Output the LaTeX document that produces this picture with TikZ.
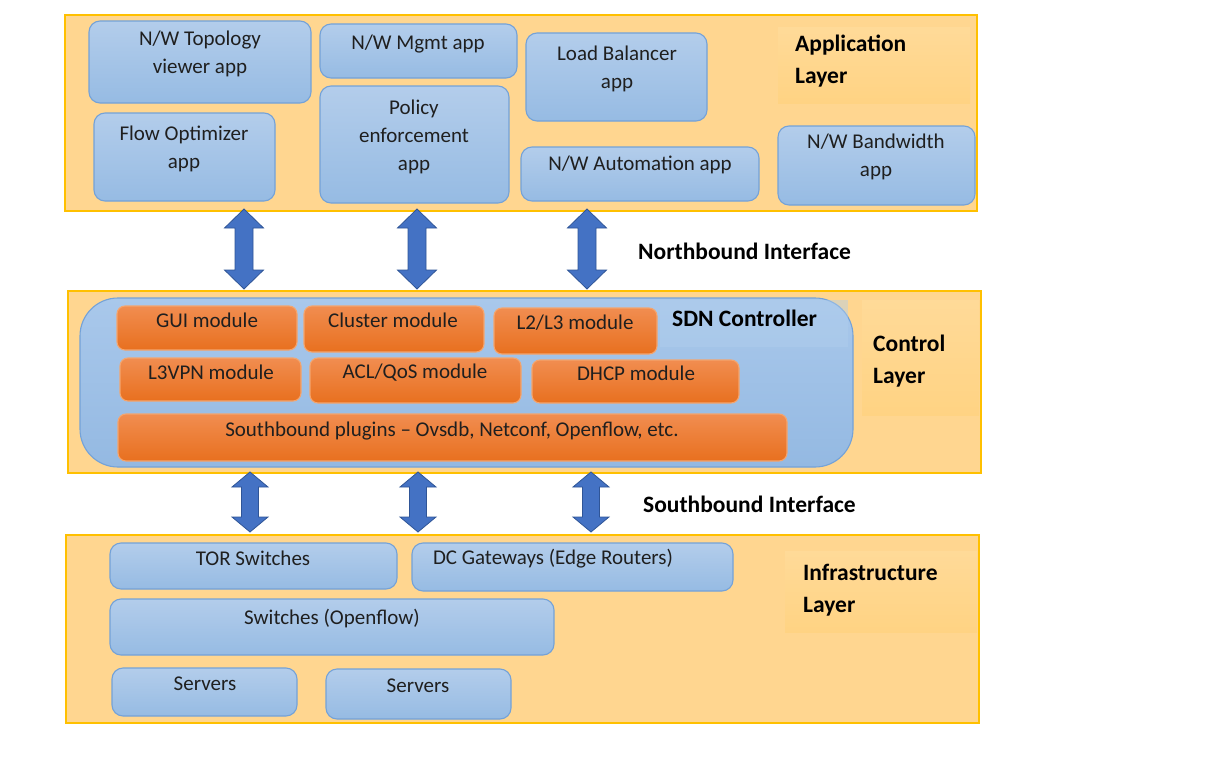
\documentclass[tikz,border=0pt]{standalone}
\usepackage{fontspec}
\setmainfont{Carlito}
\begin{document}
\begin{tikzpicture}[x=1pt,y=-1pt,
  layer/.style={draw=layerline, line width=1.6pt, fill=layerfill, rectangle, inner sep=0pt, outer sep=0pt},
  patch/.style={rectangle, inner sep=0pt, outer sep=0pt, top color=patchtop, bottom color=patchbot, draw=none},
  appbox/.style={draw=blueline, line width=1.1pt, rounded corners=11pt, top color=bluetop, bottom color=bluebot, rectangle, inner sep=0pt, outer sep=0pt},
  ctrlbox/.style={draw=blueline, line width=1.1pt, rounded corners=38pt, top color=ctrltop, bottom color=ctrlbot, rectangle, inner sep=0pt, outer sep=0pt},
  modbox/.style={draw=orangeline, line width=1.1pt, rounded corners=8pt, top color=orangetop, bottom color=orangebot, rectangle, inner sep=0pt, outer sep=0pt},
  txt/.style={font=\fontsize{21}{28}\selectfont, text=textgray, align=center, inner sep=0pt, anchor=center, yshift=-2pt},
  lbl/.style={font=\fontsize{23.5}{32}\selectfont\bfseries, text=black, align=left, inner sep=0pt, yshift=-1.5pt},
  blockarrow/.style={fill=arrowfill, draw=arrowline, line width=0.8pt, line join=miter}
]
\definecolor{layerline}{HTML}{FFC000}
\definecolor{layerfill}{HTML}{FFD690}
\definecolor{patchtop}{HTML}{FFDA98}
\definecolor{patchbot}{HTML}{FFD383}
\definecolor{blueline}{HTML}{74A2D8}
\definecolor{bluetop}{HTML}{B3CDEB}
\definecolor{bluebot}{HTML}{96BBE3}
\definecolor{ctrltop}{HTML}{A9C8EB}
\definecolor{ctrlbot}{HTML}{94B9E2}
\definecolor{orangeline}{HTML}{F4A56E}
\definecolor{orangetop}{HTML}{F18D50}
\definecolor{orangebot}{HTML}{E8701F}
\definecolor{textgray}{HTML}{1F1F1F}
\definecolor{arrowfill}{HTML}{4472C4}
\definecolor{arrowline}{HTML}{2F5597}

\newcommand\bx[6]{\node[#1, minimum width={#4-#2}, minimum height={#5-#3}] (#6) at ({(#2+#4)/2},{(#3+#5)/2}) {};}
\newcommand\dblarrow[6]{% cx, ty, by, hw, sw, hl
  \filldraw[blockarrow] (#1,#2) -- ({#1+#4},{#2+#6}) -- ({#1+#5},{#2+#6}) -- ({#1+#5},{#3-#6}) -- ({#1+#4},{#3-#6}) -- (#1,#3)
    -- ({#1-#4},{#3-#6}) -- ({#1-#5},{#3-#6}) -- ({#1-#5},{#2+#6}) -- ({#1-#4},{#2+#6}) -- cycle;}

\useasboundingbox (0,0) rectangle (1220,776);
\fill[white] (0,0) rectangle (1220,776);

% ---------- Application layer ----------
\bx{layer}{65}{15}{977}{211}{applayer}
\bx{patch}{778}{28}{970}{103}{appp}
\bx{appbox}{89}{21}{311}{103}{topo}
\bx{appbox}{320}{24}{517}{78}{mgmt}
\bx{appbox}{94}{113}{275}{201}{flow}
\bx{appbox}{320}{86}{509}{203}{policy}
\bx{appbox}{526}{33}{707}{121}{lb}
\bx{appbox}{521}{147}{759}{201}{auto}
\bx{appbox}{778}{126}{975}{205}{bw}
\node[txt] (topo-t) at (200,52) {N/W Topology\\viewer app};
\node[txt] (mgmt-t) at (418,42) {N/W Mgmt app};
\node[txt] (flow-t) at (184,147) {Flow Optimizer\\app};
\node[txt] (policy-t) at (414,135) {Policy\\enforcement\\app};
\node[txt] (lb-t) at (617,67) {Load Balancer\\app};
\node[txt] (auto-t) at (640,163) {N/W Automation app};
\node[txt] (bw-t) at (876,155) {N/W Bandwidth\\app};
\node[lbl, anchor=west] (appl) at (795,60) {Application\\Layer};

% ---------- Northbound ----------
\dblarrow{244}{209}{289}{19.5}{9}{19}
\dblarrow{417}{209}{289}{19.5}{9}{19}
\dblarrow{587}{209}{289}{19.5}{9}{19}
\node[lbl, anchor=west] (nbi) at (638,250) {Northbound Interface};

% ---------- Control layer ----------
\bx{layer}{68}{291}{981}{473}{ctrllayer}
\bx{patch}{862}{300}{979}{415}{ctrlp}
\bx{ctrlbox}{80}{298}{853}{467}{sdn}
\fill[ctrltop!90!white, opacity=0.45] (660,300) rectangle (848,347);
\node[lbl, anchor=west] (sdn-t) at (672,317) {SDN Controller};
\bx{modbox}{117}{306}{297}{350}{gui}
\bx{modbox}{304}{306}{484}{352}{cluster}
\bx{modbox}{494}{308}{657}{354}{l2l3}
\bx{modbox}{120}{358}{301}{401}{l3vpn}
\bx{modbox}{310}{358}{521}{403}{acl}
\bx{modbox}{532}{360}{739}{403}{dhcp}
\bx{modbox}{118}{414}{787}{461}{sbp}
\node[txt] (gui-t) at (207,318) {GUI module};
\node[txt] (cluster-t) at (393,318) {Cluster module};
\node[txt] (l2l3-t) at (575,321) {L2/L3 module};
\node[txt] (l3vpn-t) at (211,370) {L3VPN module};
\node[txt] (acl-t) at (415,371) {ACL/QoS module};
\node[txt] (dhcp-t) at (636,371) {DHCP module};
\node[txt] (sbp-t) at (452,429) {Southbound plugins -- Ovsdb, Netconf, Openflow, etc.};
\node[lbl, anchor=west] (ctrl-l) at (873,360) {Control\\Layer};

% ---------- Southbound ----------
\dblarrow{250}{472}{532}{18}{8.5}{15}
\dblarrow{418}{472}{532}{18}{8.5}{15}
\dblarrow{591}{472}{532}{18}{8.5}{15}
\node[lbl, anchor=west] (sbi) at (643,503) {Southbound Interface};

% ---------- Infrastructure layer ----------
\bx{layer}{66}{535}{979}{723}{infralayer}
\bx{patch}{785}{551}{977}{632}{infrap}
\bx{appbox}{110}{543}{397}{589}{tor}
\bx{appbox}{412}{543}{733}{591}{dcgw}
\bx{appbox}{110}{599}{554}{655}{sw}
\bx{appbox}{112}{668}{297}{716}{srv1}
\bx{appbox}{326}{669}{511}{719}{srv2}
\node[txt] (tor-t) at (253,556) {TOR Switches};
\node[txt] (dcgw-t) at (553,557) {DC Gateways (Edge Routers)};
\node[txt] (sw-t) at (332,617) {Switches (Openflow)};
\node[txt] (srv1-t) at (205,682) {Servers};
\node[txt] (srv2-t) at (418,684) {Servers};
\node[lbl, anchor=west] (infra-l) at (803,589) {Infrastructure\\Layer};
\end{tikzpicture}
\end{document}
